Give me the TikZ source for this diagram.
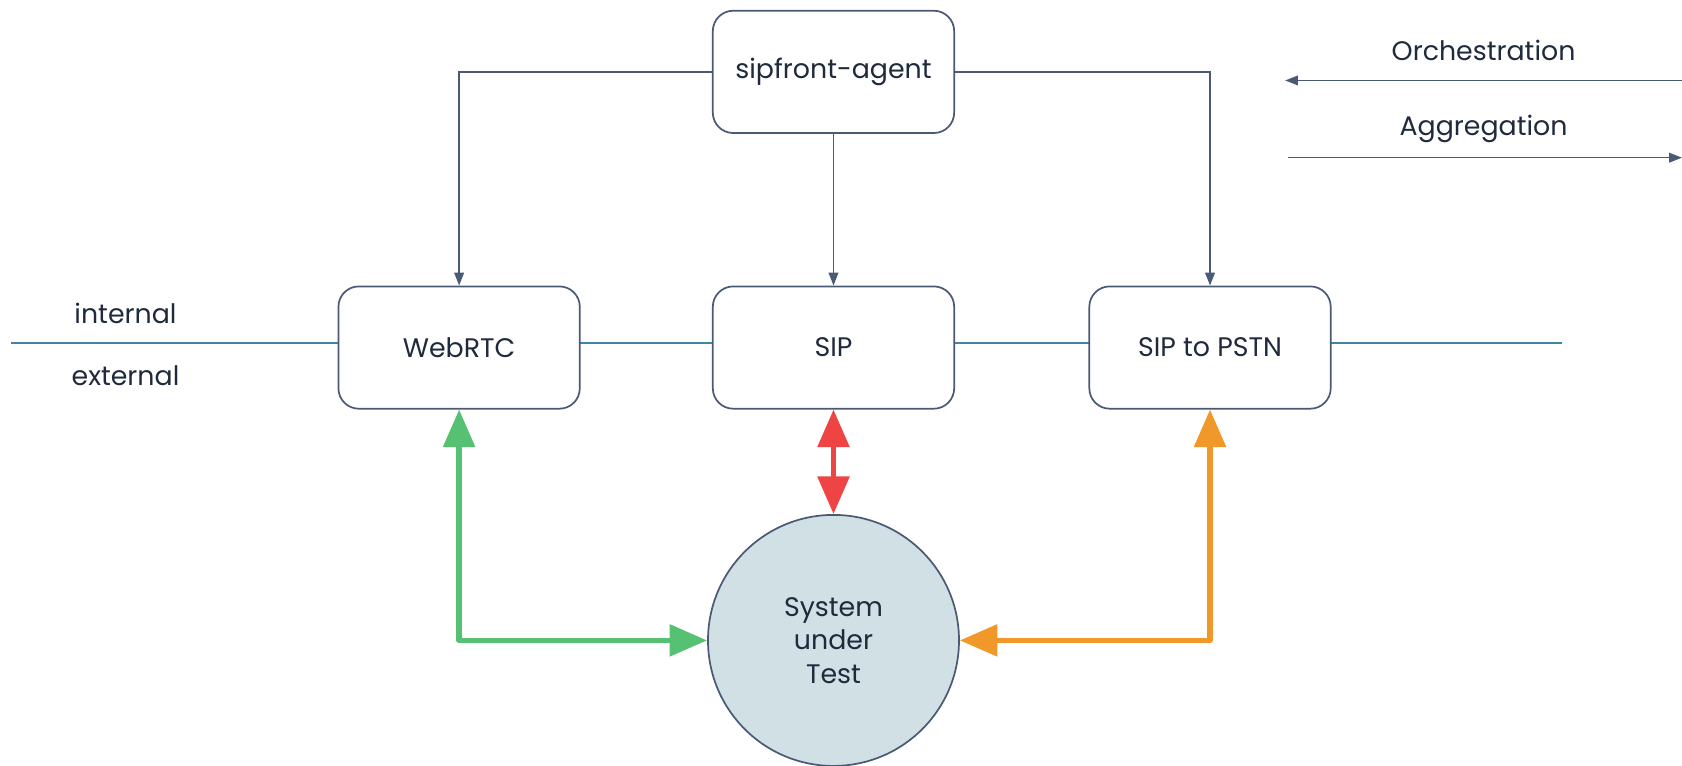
\documentclass[tikz,border=0pt]{standalone}
\usepackage{fontspec}
\setmainfont{Poppins}
\usetikzlibrary{arrows.meta,positioning}
\definecolor{stroke}{HTML}{4A5A75}
\definecolor{txt}{HTML}{1F2A3C}
\definecolor{teal}{HTML}{3B88A2}
\definecolor{gr}{HTML}{57C173}
\definecolor{rd}{HTML}{EF4444}
\definecolor{og}{HTML}{F0982A}
\definecolor{sutfill}{HTML}{D1E0E5}
\tikzset{
  box/.style={draw=stroke, line width=1.6pt, rounded corners=19pt, fill=white,
    minimum width=225pt, minimum height=114pt, inner sep=0pt, text=txt, font=\fontsize{25}{30}\selectfont},
  lbl/.style={text=txt, font=\fontsize{25}{30}\selectfont, inner sep=0pt},
  thin/.style={draw=stroke, line width=1.5pt, -{Triangle[length=12pt,width=9pt]}},
  fat/.style={line width=5pt, line join=round, {Triangle[length=35pt,width=29pt]}-{Triangle[length=35pt,width=29pt]}},
}
\begin{document}
\begin{tikzpicture}[x=1pt,y=-1pt]
\useasboundingbox (0,0) rectangle (1568,714);
\coordinate (L) at (10,320);
\coordinate (R) at (1456,320);
\draw[teal, line width=1.6pt] (L) -- (R);
\node[box] (agent) at (777,67) {sipfront-agent};
\node[box] (web) at (428,324) {WebRTC};
\node[box] (sip) at (777,324) {SIP};
\node[box] (pstn) at (1128,324) {SIP to PSTN};
\node[circle, draw=stroke, line width=1.6pt, fill=sutfill, minimum size=234pt, inner sep=0pt,
  align=center, text=txt, font=\fontsize{25}{31}\selectfont] (sut) at (777,597) {System\\under\\Test};
\node[lbl] (int) at (117,292) {internal};
\node[lbl] (ext) at (117,350) {external};
\node[lbl] (orch) at (1383,47) {Orchestration};
\node[lbl] (aggr) at (1383,120) {Aggregation};
\coordinate (o1) at (1568,75);
\coordinate (o2) at (1198,75);
\coordinate (a1) at (1201,147);
\coordinate (a2) at (1568,147);
\draw[thin] (o1) -- (o2);
\draw[thin] (a1) -- (a2);
\draw[thin] (agent.west) -| (web.north);
\draw[thin] (agent.east) -| (pstn.north);
\draw[thin] (agent.south) -- (sip.north);
\draw[fat, gr] (web.south) |- (sut.west);
\draw[fat, rd] (sip.south) -- (sut.north);
\draw[fat, og] (pstn.south) |- (sut.east);
\end{tikzpicture}
\end{document}
